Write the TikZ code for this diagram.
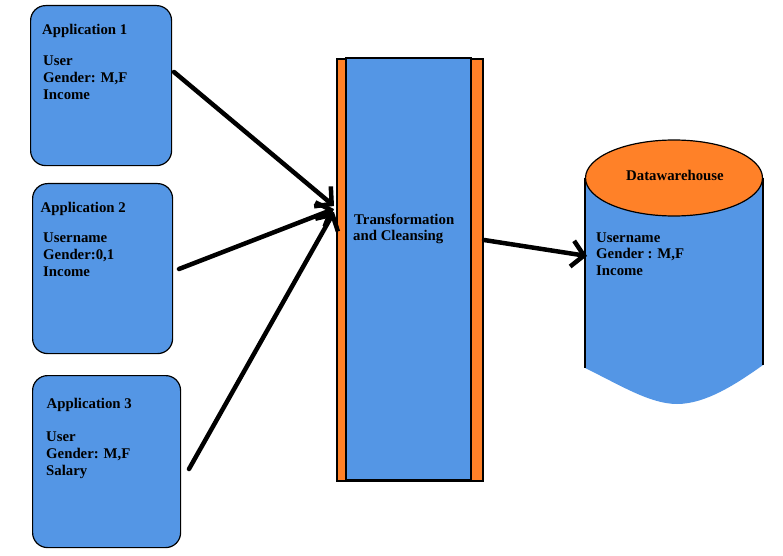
\documentclass[tikz,border=0pt]{standalone}
\usepackage{fontspec}
\setmainfont{Liberation Serif}
\usetikzlibrary{arrows.meta}
\definecolor{boxblue}{RGB}{84,150,229}
\definecolor{stripor}{RGB}{255,129,40}
\begin{document}
\begin{tikzpicture}[x=1bp,y=-1bp,
  appbox/.style={draw=black, line width=1.2bp, fill=boxblue, rounded corners=15bp, inner sep=0pt, anchor=north west},
  txt/.style={anchor=base west, inner sep=0pt, font=\bfseries\fontsize{14.8bp}{17bp}\selectfont},
  edge/.style={line width=1.8bp, draw=black},
  flow/.style={line width=4.5bp, line cap=round, -{Straight Barb[length=12bp,width=26bp]}}
]
\useasboundingbox (0,0) rectangle (783,556);

% application boxes
\node[appbox, minimum width=141bp, minimum height=160bp] (app1) at (30,5) {};
\node[appbox, minimum width=140bp, minimum height=170bp] (app2) at (32,183) {};
\node[appbox, minimum width=148bp, minimum height=172bp] (app3) at (32,375) {};

\node[txt] (t1a) at (42,34.5) {Application 1};
\node[txt] (t1b) at (43,65.5) {User};
\node[txt] (t1c) at (43,82.5) {Gender: M,F};
\node[txt] (t1d) at (43,99.5) {Income};

\node[txt] (t2a) at (40.5,212.5) {Application 2};
\node[txt] (t2b) at (43,242.5) {Username};
\node[txt] (t2c) at (43,259.5) {Gender:0,1};
\node[txt] (t2d) at (43,276.5) {Income};

\node[txt] (t3a) at (46.5,408.5) {Application 3};
\node[txt] (t3b) at (46,441.5) {User};
\node[txt] (t3c) at (46,458.5) {Gender: M,F};
\node[txt] (t3d) at (46,475.5) {Salary};

% transformation block
\node[edge, fill=stripor, minimum width=146bp, minimum height=422bp, inner sep=0pt, anchor=north west] (tc) at (336,58) {};
\draw[edge, fill=boxblue] (346,58) rectangle (471,480);
\node[txt] (tca) at (354,224.5) {Transformation};
\node[txt] (tcb) at (353,241) {and Cleansing};

% datawarehouse cylinder
\fill[boxblue] (585,178) -- (585,368) .. controls (620,385) and (650,404) .. (677,404)
  .. controls (705,404) and (735,385) .. (763,365) -- (763,178) -- cycle;
\draw[line width=1.2bp] (585,178) -- (585,368);
\draw[line width=1.2bp] (763,178) -- (763,365);
\draw[line width=1.2bp, fill=stripor] (674,178) ellipse [x radius=88.5bp, y radius=38bp];
\node[inner sep=0pt, anchor=base, font=\bfseries\fontsize{14.8bp}{17bp}\selectfont] (dw) at (675,180.5) {Datawarehouse};
\node[txt] (dwa) at (596,242.5) {Username};
\node[txt] (dwb) at (596,259) {Gender : M,F};
\node[txt] (dwc) at (596,275.5) {Income};

% connector end points
\coordinate (a1s) at (174,72);  \coordinate (a1e) at (334,206);
\coordinate (a2s) at (179,269); \coordinate (a2e) at (334,209);
\coordinate (a3s) at (189,469); \coordinate (a3e) at (334,212);
\coordinate (a4s) at (484,240); \coordinate (a4e) at (587,256);

\draw[flow] (a1s) -- (a1e);
\draw[flow] (a2s) -- (a2e);
\draw[flow] (a3s) -- (a3e);
\draw[flow] (a4s) -- (a4e);
\end{tikzpicture}
\end{document}
